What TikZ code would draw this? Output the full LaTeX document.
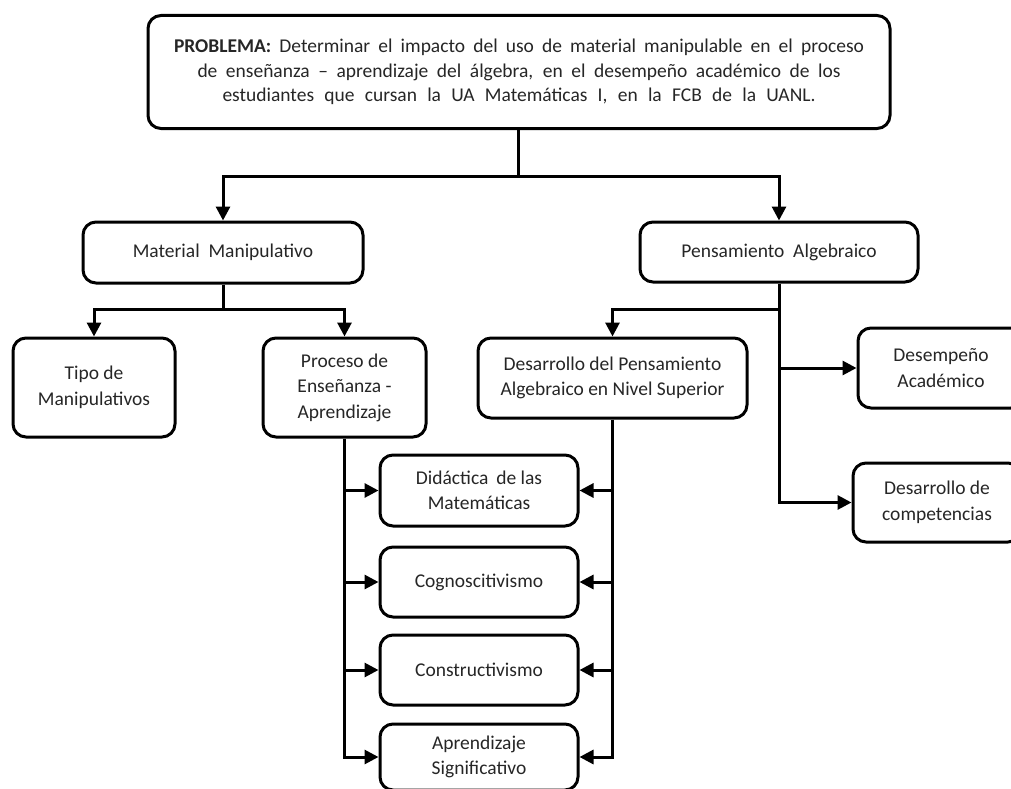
\documentclass[tikz,border=0pt]{standalone}
\usepackage{fontspec}
\setmainfont{Carlito}
\usetikzlibrary{arrows.meta}
\begin{document}
\begin{tikzpicture}[x=1pt,y=-1pt,
  box/.style={draw=black,line width=3pt,rounded corners=13pt,fill=white,align=center,
    inner sep=0pt,font=\fontsize{19.5}{25.5}\selectfont,text=black!85},
  arr/.style={line width=3pt,-{Triangle[length=14pt,width=14pt]}},
  ln/.style={line width=3pt}]
\useasboundingbox (0,0) rectangle (1011,789);
\clip (0,0) rectangle (1011,789);
% nodes
\node[box,minimum width=742pt,minimum height=113pt,font=\fontsize{19.5}{24.5}\selectfont] (top) at (519,72)
  {\makebox[690pt][s]{\textbf{PROBLEMA:} Determinar el impacto del uso de material manipulable en el proceso}\\
   \makebox[643pt][s]{de enseñanza -- aprendizaje del álgebra, en el desempeño académico de los}\\
   \makebox[593pt][s]{estudiantes que cursan la UA Matemáticas I, en la FCB de la UANL.}};
\node[box,minimum width=280pt,minimum height=61pt] (mm) at (223,252.5) {Material\hspace{0.45em}Manipulativo};
\node[box,minimum width=278pt,minimum height=60pt] (pa) at (779,252) {Pensamiento\hspace{0.45em}Algebraico};
\node[box,minimum width=162pt,minimum height=99pt] (tipo) at (94,387.5) {Tipo de\\Manipulativos};
\node[box,minimum width=163pt,minimum height=99pt] (proc) at (344.5,387.5) {Proceso de\\Enseñanza -\\Aprendizaje};
\node[box,minimum width=269pt,minimum height=80pt] (dps) at (612.5,378) {Desarrollo del Pensamiento\\Algebraico en Nivel Superior};
\node[box,minimum width=166pt,minimum height=80pt] (desemp) at (941,368) {Desempeño\\Académico};
\node[box,minimum width=168pt,minimum height=79pt] (comp) at (937,502.5) {Desarrollo de\\competencias};
\node[box,minimum width=198pt,minimum height=71pt] (did) at (479,490.5) {Didáctica\hspace{0.4em}de las\\Matemáticas};
\node[box,minimum width=198pt,minimum height=70pt] (cog) at (479,582) {Cognoscitivismo};
\node[box,minimum width=198pt,minimum height=70pt] (con) at (479,670) {Constructivismo};
\node[box,minimum width=198pt,minimum height=66pt] (apr) at (479,757) {Aprendizaje\\Significativo};
% connectors
\coordinate (j1) at (518,176);
\draw[ln] (top.south -| j1) -- (j1);
\draw[arr] (j1) -| (mm.north);
\draw[arr] (j1) -| (pa.north);
\coordinate (j2) at (223,309);
\draw[ln] (mm.south) -- (j2);
\draw[arr] (j2) -| (tipo.north);
\draw[arr] (j2) -| (proc.north);
\coordinate (j3) at (779,309);
\draw[ln] (pa.south) -- (j3);
\draw[arr] (j3) -| (dps.north);
\draw[arr] (pa.south) |- (comp.west);
\draw[arr] (pa.south |- desemp.west) -- (desemp.west);
\draw[arr] (proc.south) |- (apr.west);
\draw[arr] (proc.south |- did.west) -- (did.west);
\draw[arr] (proc.south |- cog.west) -- (cog.west);
\draw[arr] (proc.south |- con.west) -- (con.west);
\draw[arr] (dps.south) |- (apr.east);
\draw[arr] (dps.south |- did.east) -- (did.east);
\draw[arr] (dps.south |- cog.east) -- (cog.east);
\draw[arr] (dps.south |- con.east) -- (con.east);
\end{tikzpicture}
\end{document}
